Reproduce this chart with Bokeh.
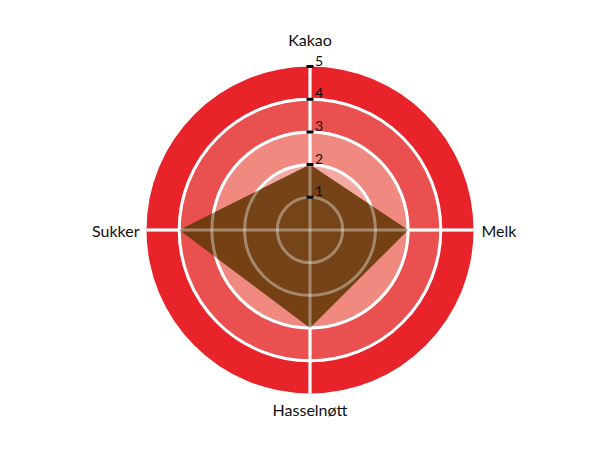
import math
from bokeh.plotting import figure
from bokeh.models import Range1d, ColumnDataSource
from bokeh.core.properties import value
from bokeh.embed import file_html
from bokeh.resources import INLINE

# ---- data ----
categories = ["Kakao", "Melk", "Hasselnøtt", "Sukker"]
values = [2, 3, 3, 4]
tick_values = [1, 2, 3, 4, 5]
tick_labels = ["1", "2", "3", "4", "5"]
max_value = 5

# ---- styling ----
band_colors = ["#f7c6c0", "#f4aaa2", "#f08a80", "#e9504f", "#e8232a"]  # 0-1 ... 4-5
poly_color = "#6c3a0c"
W, H = 594, 434
unit = 32.7  # px per value unit
cx_px, cy_px = 309.5, 229.5  # centre inside the frame, from left / top

p = figure(width=W, height=H, output_backend="svg", toolbar_location=None,
           min_border=0, outline_line_color=None)
p.x_range = Range1d(-cx_px / unit, (W - cx_px) / unit)
p.y_range = Range1d(-(H - cy_px) / unit, cy_px / unit)
p.axis.visible = False
p.grid.visible = False
p.background_fill_color = "white"
p.border_fill_color = "white"

n = len(categories)
angles = [i * 2 * math.pi / n for i in range(n)]  # clockwise from top

# bands
for i in range(max_value):
    p.annulus(x=0, y=0, inner_radius=i, outer_radius=i + 1,
              fill_color=band_colors[i], line_color=None)

# white grid
def grid(alpha):
    for r in tick_values[:-1]:
        p.circle(x=0, y=0, radius=r, fill_color=None, line_color="white",
                 line_width=3, line_alpha=alpha)
    xs = [[0, max_value * math.sin(a)] for a in angles]
    ys = [[0, max_value * math.cos(a)] for a in angles]
    p.multi_line(xs=xs, ys=ys, line_color="white", line_width=3, line_alpha=alpha)

grid(1.0)

# polygon
px = [v * math.sin(a) for v, a in zip(values, angles)]
py = [v * math.cos(a) for v, a in zip(values, angles)]
p.patch(px, py, fill_color=poly_color, fill_alpha=0.93, line_color=None)

# grid over polygon
grid(0.35)

# ticks on Kakao axis
p.rect(x=[0] * len(tick_values), y=tick_values, width=7, height=3,
       width_units="screen", height_units="screen", fill_color="black", line_color=None)
p.text(x=[0] * len(tick_values), y=tick_values, text=tick_labels,
       x_offset=5, y_offset=-1, text_font=value("Lato"), text_font_size="14px",
       text_color="#111111", text_align="left", text_baseline="bottom")

# category labels
lx = [max_value * math.sin(a) for a in angles]
ly = [max_value * math.cos(a) for a in angles]
aligns = ["center", "left", "center", "right"]
baselines = ["bottom", "middle", "top", "middle"]
xoffs = [0, 8, 0, -7]
yoffs = [-18, 0, 6, 0]
src = ColumnDataSource(dict(x=lx, y=ly, t=categories, a=aligns, b=baselines,
                            xo=xoffs, yo=yoffs))
p.text(x="x", y="y", text="t", source=src, text_align="a", text_baseline="b",
       x_offset="xo", y_offset="yo", text_font=value("Lato"),
       text_font_size="16px", text_color="#111111")

open("out.html", "w").write(file_html(p, INLINE))
